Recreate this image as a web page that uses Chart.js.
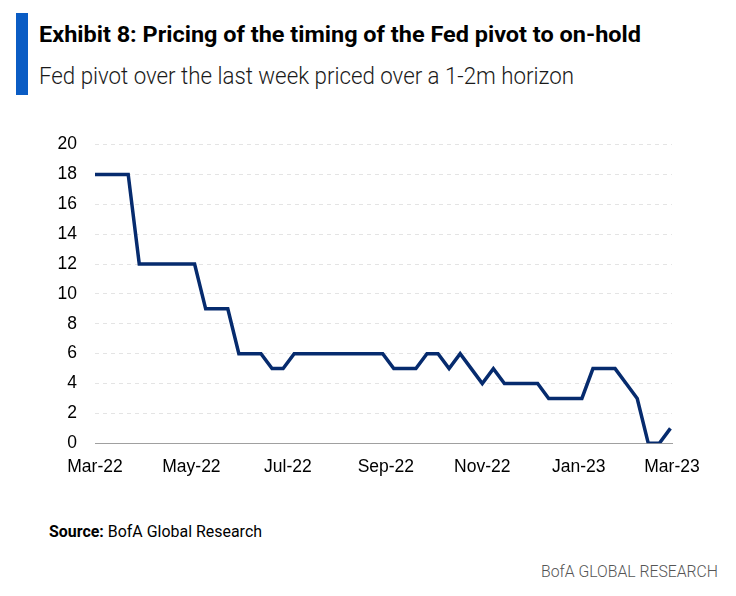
<!DOCTYPE html>
<html>
<head>
<meta charset="utf-8">
<script src="https://cdn.jsdelivr.net/npm/chart.js@4.4.1/dist/chart.umd.min.js"></script>
<style>
  html, body { margin: 0; padding: 0; background: #fff; }
  body { width: 736px; height: 596px; position: relative; overflow: hidden; }
  #bar { position: absolute; left: 16px; top: 13px; width: 12px; height: 82px; background: #0a5cc4; }
  .txt { position: absolute; font-family: Roboto, 'Liberation Sans', Arial, sans-serif; white-space: nowrap; transform-origin: 0 0; }
  #title { left: 39px; top: 21px; font-size: 22.5px; font-weight: 700; color: #000; }
  #subtitle { left: 39px; top: 62px; font-size: 24px; font-weight: 300; color: #1a1a1a; }
  #source { left: 49px; top: 522px; font-size: 16.5px; font-weight: 400; color: #000; }
  #source b { font-weight: 700; }
  #footer { left: 541px; top: 561px; font-size: 17px; font-weight: 300; color: #555; }
  #wrap { position: absolute; left: 0; top: 116px; width: 736px; height: 374px; }
</style>
</head>
<body>
<div id="bar"></div>
<div id="title" class="txt" data-w="602">Exhibit 8: Pricing of the timing of the Fed pivot to on-hold</div>
<div id="subtitle" class="txt" data-w="535">Fed pivot over the last week priced over a 1-2m horizon</div>
<div id="wrap"><canvas id="c" width="736" height="374"></canvas></div>
<div id="source" class="txt" data-w="213"><b>Source:</b> BofA Global Research</div>
<div id="footer" class="txt" data-w="177">BofA GLOBAL RESEARCH</div>
<script>
// Weekly observation dates
const weekDates = [
  '2022-03-01','2022-03-08','2022-03-15','2022-03-22','2022-03-29',
  '2022-04-05','2022-04-12','2022-04-19','2022-04-26',
  '2022-05-03','2022-05-10','2022-05-17','2022-05-24','2022-05-31',
  '2022-06-07','2022-06-14','2022-06-21','2022-06-28',
  '2022-07-05','2022-07-12','2022-07-19','2022-07-26',
  '2022-08-02','2022-08-09','2022-08-16','2022-08-23','2022-08-30',
  '2022-09-06','2022-09-13','2022-09-20','2022-09-27',
  '2022-10-04','2022-10-11','2022-10-18','2022-10-25',
  '2022-11-01','2022-11-08','2022-11-15','2022-11-22','2022-11-29',
  '2022-12-06','2022-12-13','2022-12-20','2022-12-27',
  '2023-01-03','2023-01-10','2023-01-17','2023-01-24','2023-01-31',
  '2023-02-07','2023-02-14','2023-02-21','2023-02-28'
];
// Fed pivot pricing (weeks ahead)
const pivotValues = [
  18,18,18,18,12,12,12,12,12,12,9,9,9,6,6,6,5,5,6,6,6,6,6,6,6,6,6,
  5,5,5,6,6,5,6,5,4,5,4,4,4,4,3,3,3,3,5,5,5,4,3,0,0,1
];
// X-axis tick dates and labels
const tickDates = ['2022-03-01','2022-05-01','2022-07-01','2022-09-01','2022-11-01','2023-01-01','2023-03-01'];
const tickLabels = ['Mar-22','May-22','Jul-22','Sep-22','Nov-22','Jan-23','Mar-23'];
// Y-axis range
const yMin = 0, yMax = 20, yStep = 2;

// Fit header/footer texts to their reference widths
document.querySelectorAll('.txt').forEach(el => {
  const w = el.getBoundingClientRect().width;
  const target = parseFloat(el.dataset.w);
  if (w > 0) el.style.transform = 'scaleX(' + (target / w) + ')';
});

const origin = Date.parse('2022-03-01');
const toDay = d => (Date.parse(d) - origin) / 86400000;
const points = weekDates.map((d, i) => ({ x: toDay(d), y: pivotValues[i] }));
const tickDays = tickDates.map(toDay);

const axisFont = { family: "'Liberation Sans', Arial, sans-serif", size: 17.5 };

new Chart(document.getElementById('c'), {
  type: 'line',
  data: {
    datasets: [{
      data: points,
      borderColor: '#062b6e',
      borderWidth: 3.5,
      pointRadius: 0,
      tension: 0,
      fill: false
    }]
  },
  options: {
    responsive: false,
    animation: false,
    devicePixelRatio: 1,
    layout: { padding: { left: 0, right: 64, top: 0, bottom: 0 } },
    plugins: { legend: { display: false }, tooltip: { enabled: false } },
    scales: {
      x: {
        type: 'linear',
        min: tickDays[0],
        max: tickDays[tickDays.length - 1],
        afterBuildTicks: s => { s.ticks = tickDays.map(v => ({ value: v })); },
        afterFit: s => { s.height = 46.7; },
        ticks: {
          autoSkip: false,
          maxRotation: 0,
          padding: 13,
          color: '#000',
          font: axisFont,
          callback: v => { const i = tickDays.indexOf(v); return i >= 0 ? tickLabels[i] : ''; }
        },
        grid: { display: false, drawTicks: false },
        border: { display: true, color: '#a0a0a0', width: 1 }
      },
      y: {
        min: yMin,
        max: yMax,
        afterFit: s => { s.width = 95; },
        ticks: { stepSize: yStep, padding: 18, color: '#000', font: axisFont },
        grid: {
          drawTicks: false,
          color: ctx => ctx.tick && ctx.tick.value === 0 ? 'rgba(0,0,0,0)' : '#e4e4e4',
          lineWidth: 1
        },
        border: { display: false, dash: [4, 4] }
      }
    }
  }
});
</script>
</body>
</html>
